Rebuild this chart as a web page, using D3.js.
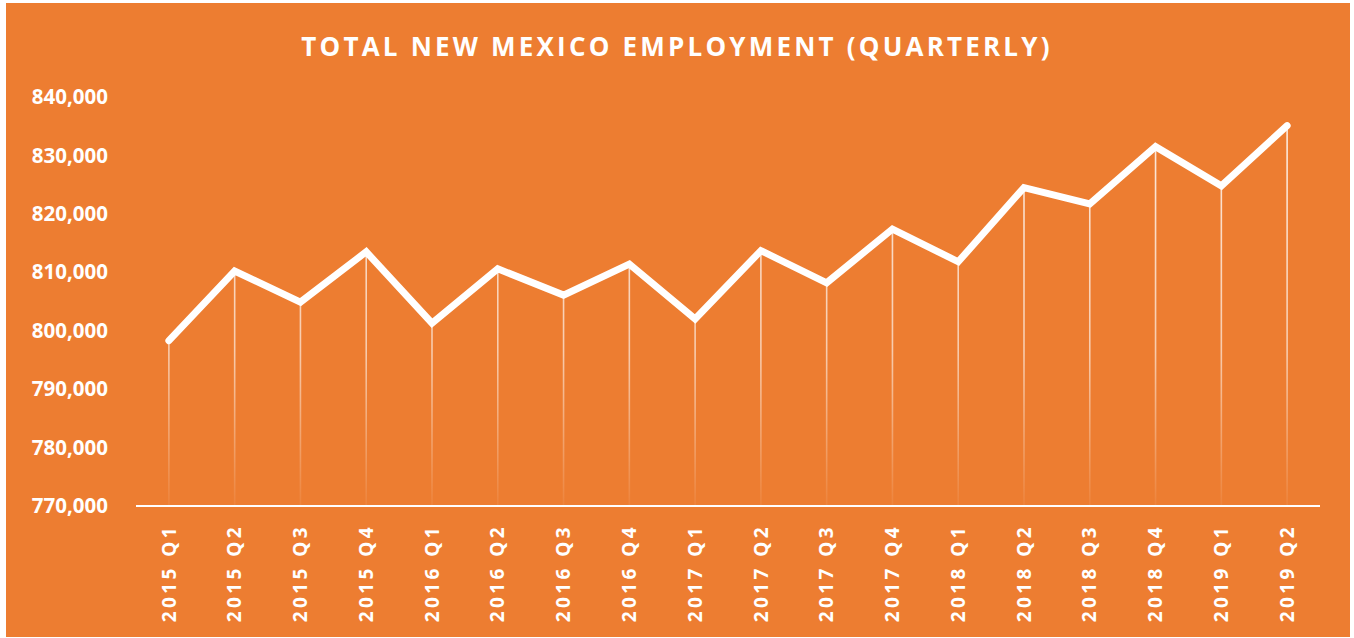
<!DOCTYPE html>
<html lang="en">
<head>
	<meta charset="UTF-8"/>
	<title>Total New Mexico Employment (Quarterly)</title>
	<script src="https://d3js.org/d3.v7.min.js"></script>
	<style>
		body { margin: 0; background: #fff; }
		text { font-family: "Open Sans", sans-serif; font-weight: bold; fill: #fff; }
	</style>
</head>
<body>
	<script>
		var quarters = ["2015 Q1", "2015 Q2", "2015 Q3", "2015 Q4",
			"2016 Q1", "2016 Q2", "2016 Q3", "2016 Q4",
			"2017 Q1", "2017 Q2", "2017 Q3", "2017 Q4",
			"2018 Q1", "2018 Q2", "2018 Q3", "2018 Q4",
			"2019 Q1", "2019 Q2"];
		var employment = [798300, 810200, 804900, 813500,
			801300, 810600, 806100, 811400,
			802000, 813700, 808200, 817400,
			811800, 824500, 821700, 831500,
			824800, 835100];
		var yTicks = [770000, 780000, 790000, 800000, 810000, 820000, 830000, 840000];

		var w = 1354;
		var h = 638;
		var orange = "#ED7D31";

		var svg = d3.select("body")
			.append("svg")
			.attr("width", w)
			.attr("height", h);

		// fade for the drop lines
		var grad = svg.append("defs").append("linearGradient")
			.attr("id", "fade")
			.attr("gradientUnits", "userSpaceOnUse")
			.attr("x1", 0).attr("y1", 120)
			.attr("x2", 0).attr("y2", 506);
		grad.append("stop").attr("offset", "0%").attr("stop-color", "#fff").attr("stop-opacity", 0.85);
		grad.append("stop").attr("offset", "60%").attr("stop-color", "#fff").attr("stop-opacity", 0.6);
		grad.append("stop").attr("offset", "100%").attr("stop-color", "#fff").attr("stop-opacity", 0.05);

		svg.append("rect")
			.attr("x", 6)
			.attr("y", 3)
			.attr("width", 1344)
			.attr("height", 634)
			.attr("fill", orange);

		var xScale = d3.scalePoint()
			.domain(quarters)
			.range([136, 1320])
			.padding(0.5);

		var yScale = d3.scaleLinear()
			.domain([770000, 840000])
			.range([506, 97]);

		svg.append("text")
			.attr("x", 677)
			.attr("y", 56)
			.attr("text-anchor", "middle")
			.style("font-size", "26px")
			.style("letter-spacing", "3.2px")
			.text("TOTAL NEW MEXICO EMPLOYMENT (QUARTERLY)");

		// y labels
		svg.selectAll(".ylab")
			.data(yTicks)
			.enter()
			.append("text")
			.attr("class", "ylab")
			.attr("x", 108)
			.attr("y", function(d) { return yScale(d); })
			.attr("dy", "0.35em")
			.attr("text-anchor", "end")
			.style("font-size", "20.5px")
			.text(d3.format(","));

		// drop lines
		svg.selectAll(".drop")
			.data(employment)
			.enter()
			.append("line")
			.attr("class", "drop")
			.attr("x1", function(d, i) { return xScale(quarters[i]); })
			.attr("x2", function(d, i) { return xScale(quarters[i]); })
			.attr("y1", function(d) { return yScale(d); })
			.attr("y2", yScale(770000))
			.attr("stroke", "url(#fade)")
			.attr("stroke-width", 1.6);

		// x axis line
		svg.append("line")
			.attr("x1", 136)
			.attr("x2", 1320)
			.attr("y1", yScale(770000))
			.attr("y2", yScale(770000))
			.attr("stroke", "#fff")
			.attr("stroke-width", 2);

		var line = d3.line()
			.x(function(d, i) { return xScale(quarters[i]); })
			.y(function(d) { return yScale(d); });

		svg.append("path")
			.datum(employment)
			.attr("d", line)
			.attr("fill", "none")
			.attr("stroke", "#fff")
			.attr("stroke-width", 7)
			.attr("stroke-linejoin", "miter")
			.attr("stroke-linecap", "round");

		// x labels
		svg.selectAll(".xlab")
			.data(quarters)
			.enter()
			.append("text")
			.attr("class", "xlab")
			.attr("transform", function(d) { return "translate(" + xScale(d) + ",524) rotate(-90)"; })
			.attr("dy", "0.35em")
			.attr("text-anchor", "end")
			.style("font-size", "19px")
			.style("letter-spacing", "3.4px")
			.text(function(d) { return d; });
	</script>
</body>
</html>
